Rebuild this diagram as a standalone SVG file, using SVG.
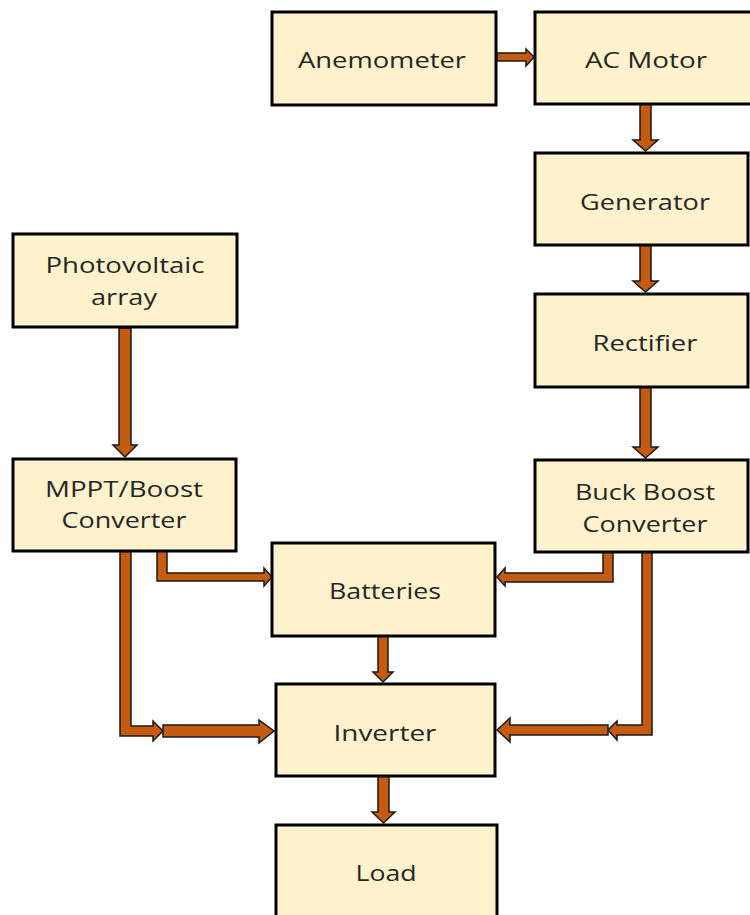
<svg xmlns="http://www.w3.org/2000/svg" width="750" height="915" viewBox="0 0 750 915">
  <style>
    .box { fill: #FFF2CC; stroke: #000; stroke-width: 3; }
    .lbl { font-family: "Open Sans", "Liberation Sans", sans-serif; font-size: 22px; fill: #262626; text-anchor: middle; }
    .arr { fill: #C55A11; stroke: #1a1a1a; stroke-width: 1.5; stroke-linejoin: miter; }
  </style>
  <rect width="750" height="915" fill="#fff"/>

  <g id="connectors">
    <!-- Anemometer to AC Motor -->
    <polygon class="arr" points="497,53 526,53 526,49 534,57 526,66 526,61 497,61"/>
    <!-- AC Motor to Generator -->
    <polygon class="arr" points="640,104 651,104 651,140 658,140 645.5,151 633,140 640,140"/>
    <!-- Generator to Rectifier -->
    <polygon class="arr" points="640,245 651,245 651,281 658,281 645.5,292 633,281 640,281"/>
    <!-- Rectifier to Buck Boost Converter -->
    <polygon class="arr" points="640,387 651,387 651,447 658,447 645.5,458 633,447 640,447"/>
    <!-- Photovoltaic array to MPPT -->
    <polygon class="arr" points="119,328 131,328 131,445 137,445 125,457 113,445 119,445"/>
    <!-- MPPT to Batteries (elbow) -->
    <polygon class="arr" points="157,551 167,551 167,573 264,573 264,568 272,577 264,586 264,581 157,581"/>
    <!-- Buck Boost to Batteries (elbow) -->
    <polygon class="arr" points="613,552 603,552 603,573 505,573 505,568 497,577 505,586 505,582 613,582"/>
    <!-- MPPT to Inverter (elbow + straight) -->
    <polygon class="arr" points="120,551 131,551 131,726 153,726 153,721 163,731 153,741 153,736 120,736"/>
    <polygon class="arr" points="163,725 259,725 259,720 274,731 259,743 259,737 163,737"/>
    <!-- Buck Boost to Inverter (elbow + straight) -->
    <polygon class="arr" points="652,552 642,552 642,725 617,725 617,721 608,730 617,740 617,735 652,735"/>
    <polygon class="arr" points="608,725 510,725 510,718 497,730 510,742 510,735 608,735"/>
    <!-- Batteries to Inverter -->
    <polygon class="arr" points="378,636 388,636 388,672 393,672 383,682 373,672 378,672"/>
    <!-- Inverter to Load -->
    <polygon class="arr" points="378,776 389,776 389,812 395,812 383.5,823 372,812 378,812"/>
  </g>

  <g id="anemometer">
    <rect class="box" x="272" y="12" width="224" height="93"/>
    <text class="lbl" x="382" y="68" textLength="168" lengthAdjust="spacingAndGlyphs">Anemometer</text>
  </g>
  <g id="ac-motor">
    <rect class="box" x="535" y="12" width="225" height="92"/>
    <text class="lbl" x="646" y="68" textLength="122" lengthAdjust="spacingAndGlyphs">AC Motor</text>
  </g>
  <g id="generator">
    <rect class="box" x="535" y="153" width="213" height="92"/>
    <text class="lbl" x="645" y="210" textLength="130" lengthAdjust="spacingAndGlyphs">Generator</text>
  </g>
  <g id="rectifier">
    <rect class="box" x="535" y="294" width="213" height="93"/>
    <text class="lbl" x="645" y="351" textLength="105" lengthAdjust="spacingAndGlyphs">Rectifier</text>
  </g>
  <g id="buck-boost">
    <rect class="box" x="535" y="460" width="213" height="92"/>
    <text class="lbl" x="645" y="500" textLength="140" lengthAdjust="spacingAndGlyphs">Buck Boost</text>
    <text class="lbl" x="645" y="532" textLength="125" lengthAdjust="spacingAndGlyphs">Converter</text>
  </g>
  <g id="photovoltaic">
    <rect class="box" x="13" y="234" width="224" height="93"/>
    <text class="lbl" x="125" y="273" textLength="159" lengthAdjust="spacingAndGlyphs">Photovoltaic</text>
    <text class="lbl" x="124" y="305" textLength="66" lengthAdjust="spacingAndGlyphs">array</text>
  </g>
  <g id="mppt">
    <rect class="box" x="13" y="459" width="223" height="92"/>
    <text class="lbl" x="124" y="497" textLength="158" lengthAdjust="spacingAndGlyphs">MPPT/Boost</text>
    <text class="lbl" x="124" y="528" textLength="125" lengthAdjust="spacingAndGlyphs">Converter</text>
  </g>
  <g id="batteries">
    <rect class="box" x="272" y="543" width="223" height="93"/>
    <text class="lbl" x="385" y="599" textLength="112" lengthAdjust="spacingAndGlyphs">Batteries</text>
  </g>
  <g id="inverter">
    <rect class="box" x="276" y="684" width="219" height="92"/>
    <text class="lbl" x="385" y="741" textLength="103" lengthAdjust="spacingAndGlyphs">Inverter</text>
  </g>
  <g id="load">
    <rect class="box" x="276" y="825" width="221" height="100"/>
    <text class="lbl" x="386" y="881" textLength="61" lengthAdjust="spacingAndGlyphs">Load</text>
  </g>
</svg>
